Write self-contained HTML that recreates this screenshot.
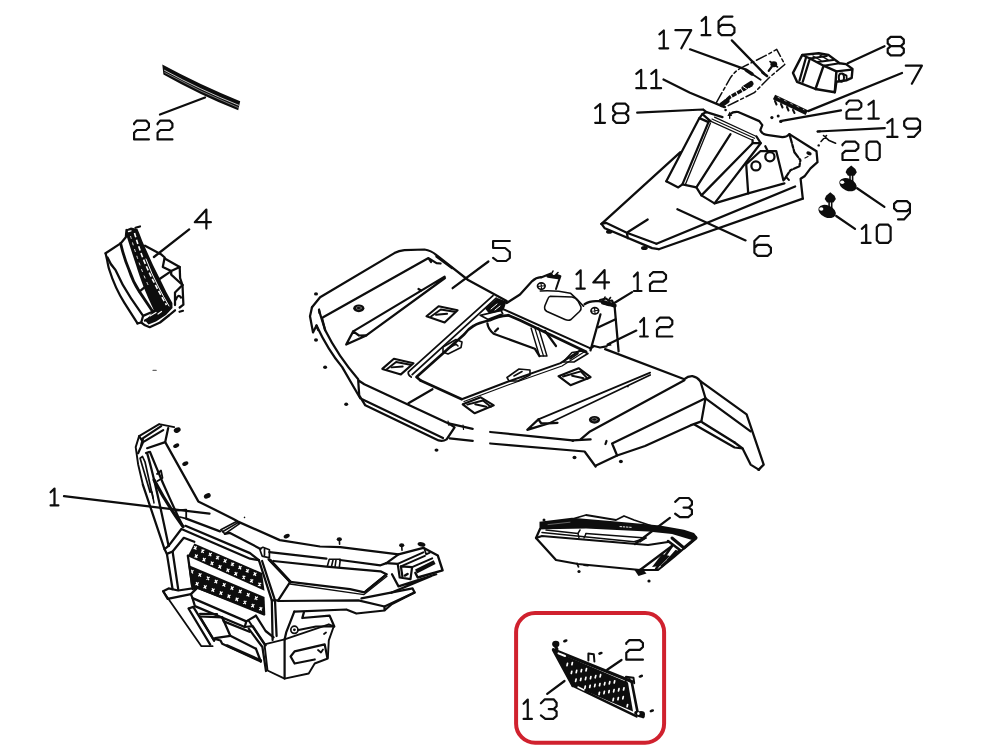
<!DOCTYPE html>
<html><head><meta charset="utf-8"><title>Parts diagram</title>
<style>
html,body{margin:0;padding:0;background:#fff;}
body{width:1000px;height:747px;overflow:hidden;font-family:"Liberation Sans",sans-serif;}
svg{display:block;filter:blur(0.45px)}
.k{fill:none;stroke:#0d0d0d;stroke-width:2.25;stroke-linecap:round;stroke-linejoin:round}
.f{fill:#0d0d0d;stroke:none}
</style></head><body>
<svg width="1000" height="747" viewBox="0 0 1000 747">
<rect width="1000" height="747" fill="#ffffff"/>
<g class="k">
<!-- p01.py -->

<g>
<!-- top-left tip -->
<path d="M159.2,424.1 L174.2,427.1 M159.2,424.1 L139.1,436.1 L135.7,447.1 L138.1,464.2 L142.9,484.8" stroke-width="1.9"/>
<path d="M161.2,426.1 L143.1,438.1 L141,446 M139.1,436.1 L143.1,442.1 L163.2,430.1 M143.1,442.1 L138.1,453.2" />
<path d="M168.2,428.1 L165.2,442.1 L198.3,501.4 L232.4,518.4 L238,521.6 L279.8,540.1 L320,546.5 L340.3,547.2 L398.5,554.3 L423.3,547.8" />
<path d="M147.1,448.2 L165.2,442.1 M146,453 L149,452"/>
<!-- left arm inner lines -->
<path d="M147.1,453.2 Q154,476 168.6,545.9"/>
<path d="M150,452 Q166,492 183,526.6"/>
<path d="M154.1,480 Q166,503 183,526.6" stroke-width="3.2"/>
<path d="M157,474 L161,470.5 L162.5,478 L157.5,481" stroke-width="1.8"/>
<path d="M140.1,458.2 L150.1,492.3 M145.1,462.2 L153.1,498.4 M140.1,458.2 L142.5,456.5 L145.1,462.2" stroke-width="1.7"/>
<path d="M152,492 L154,503" stroke-width="1.5"/>
<!-- outer left edge / pillar -->
<path d="M142.9,484.8 L164.5,549.1 L166.9,553.9 L172.6,589.2"/>
<path d="M168.6,545.9 L181.4,529 L250,558.7 L258.9,560.2"/>
<path d="M166.9,553.9 L172.6,551.5 L183.8,537.8 L194.3,541.8"/>
<path d="M172.6,551.5 L178.2,589.2"/>
<path d="M164.5,549.1 L168.6,545.9"/>
<!-- leader 1 -->
<path d="M64,496.2 L209.5,513.7"/>
<path transform="translate(50.6,488.3) scale(0.487,0.855)" d="M0,4.6 L8,0.3 L8,20 M0,20 L16,20" vector-effect="non-scaling-stroke" stroke-width="2.2"/>
<!-- clips on top band -->
<path d="M176.6,510.5 L186.2,509.7 L186.2,518.6 L180,517" stroke-width="1.8"/>
<path d="M220.8,529.8 L236,521.8 L240,523.4 L224.8,533.8 Z M222.5,531.8 L238,522.6" stroke-width="1.6"/>
<path d="M259.7,548.9 L262.9,547.3 L269.4,549.7 L269.4,557.8 L262.1,556.1 Z M264.5,549 L264.5,555" stroke-width="1.7"/>
<path d="M327.3,566.3 L329.3,559.3 L340.3,559.3 L339.3,567.3 M333,560 L331.5,566.5 M336,560 L335,567" stroke-width="1.6"/>
<!-- band lines -->
<path d="M186.2,518.6 L220,531.4 M224.8,533.8 L230,532.9 L260.5,548.9 M269.4,552.1 L326.4,558.6 M340,560 L380.5,565.3 L386.4,563.1"/>
<path d="M185.4,525.8 L250,553.1 L258.9,560.2"/>
<!-- right tip box -->
<path d="M423.3,547.8 L437.8,555.5 L442.6,570.3 L417.7,577.5 L415.3,572.7" stroke-width="2.4"/>
<path d="M386.4,563.1 L397.7,563.9 L399.7,577.5 L410.5,579.1 L412.1,567.1 L400.9,566.3 L402.5,577" stroke-width="2.2"/>
<path d="M386.4,563.1 L398.5,554.3"/>
<path d="M397.7,563.9 L423.3,552.3 M400.9,566.3 L424.9,555.9 M412.1,567.1 L432.2,558.3" stroke-width="2"/>
<path d="M416,571.5 L434.6,562.2" stroke-width="4.2" stroke-linecap="butt"/>
<path d="M424.3,548.5 L426.1,554.3 L429.8,552.7" stroke-width="1.8"/>
<path d="M405,575.5 L407.5,574" stroke-width="2.6"/>
<path d="M392,574.3 L398.5,586.4 L436.2,574.3 M391.2,592.8 L431.4,575.9" />
<!-- recess panel -->
<path d="M290.2,581.8 L350,589.1 L364.4,592.4 L386.5,574.3" stroke-width="2.2"/>
<path d="M290,584 L364,594.6 L387,576.3" stroke-width="1.3"/>
<path d="M273.4,561 L326.4,566.6 L380.5,571.3 L386.5,574.3"/>
<path d="M270,560 L290.2,581.8" stroke-width="3"/>
<path d="M366,591 L385,575.5" stroke-width="2.2"/>
<!-- pentagon + post -->
<path d="M258.9,560.2 L271.8,600.3 L272.6,640"/>
<path d="M262.1,561 L275,600.3 L276.6,636"/>
<path d="M268.6,559.4 L290.2,581.8 L278.2,600.3 L271.8,600.3"/>
<!-- lower band to right -->
<path d="M278.2,601 L358.4,600.4 L384.5,606.5 L414.6,592.4 L412.6,588.4 L361.4,598.4"/>
<path d="M294.3,611.6 L346.3,609.5 L356.4,613.5 L384.5,610.5 L384.5,606.5"/>
<path d="M385,610 L392,604 L414.6,592.4"/>
<path d="M294.3,611.6 L286.2,632.4 L284.6,639.4"/>
<path d="M303.9,612.4 L302.3,618 L329.6,615.6 L334.3,626.5"/>
<circle cx="294.4" cy="629.8" r="3.6" stroke-width="1.7"/>
<circle cx="294.4" cy="629.8" r="1.4" class="f"/>
<path d="M298.5,630 L316,626.5 L333.8,626.3"/>
<!-- lower bumper right corner -->
<path d="M248.4,620.3 L264.5,644.4 L267.5,670.5 L284.6,678.6 L308.7,673.5 L314.7,663.5 L327.8,658.5 L328.8,640.4 L333.8,626.3 L328.8,624.3 L284.6,639.4 L264.5,644.4" stroke-width="1.9"/>
<path d="M284.6,639.4 L284.6,678.6"/>
<path d="M290.6,656.5 L294.6,651.4 L324.7,644.4 L327.3,657.5 M290.6,656.5 L294.6,663.5 L314.7,659.5"/>
<path d="M318,650 L321,652.5 L323,649.5" stroke-width="1.8"/>
<path d="M324,634 L326,632.5" stroke-width="1.8"/>
<!-- grille -->
<path class="f" d="M194.3,543.5 L262.1,573 L264.5,590.7 L187.8,556.3 Z"/>
<path class="f" d="M188.4,565.1 L264.5,597.1 L265.3,614.8 L191,586.5 Z"/>
<path d="M193.7,549.1 L196.9,546.5 M194.4,546.1 L196.2,549.7 M194.6,557.4 L197.8,554.8 M195.3,554.4 L197.1,558.0 M201.1,552.4 L204.3,549.8 M201.8,549.4 L203.6,553.0 M202.5,560.9 L205.7,558.3 M203.2,557.9 L205.0,561.5 M208.6,555.7 L211.8,553.1 M209.3,552.7 L211.1,556.3 M210.4,564.5 L213.6,561.9 M211.1,561.5 L212.9,565.1 M216.0,558.9 L219.2,556.3 M216.7,555.9 L218.5,559.5 M218.3,568.0 L221.5,565.4 M219.0,565.0 L220.8,568.6 M223.5,562.2 L226.7,559.6 M224.2,559.2 L226.0,562.8 M226.3,571.5 L229.5,568.9 M227.0,568.5 L228.8,572.1 M230.9,565.5 L234.1,562.9 M231.6,562.5 L233.4,566.1 M234.2,575.0 L237.4,572.4 M234.9,572.0 L236.7,575.6 M238.4,568.8 L241.6,566.2 M239.1,565.8 L240.9,569.4 M242.1,578.6 L245.3,576.0 M242.8,575.6 L244.6,579.2 M245.8,572.0 L249.0,569.4 M246.5,569.0 L248.3,572.6 M250.0,582.1 L253.2,579.5 M250.7,579.1 L252.5,582.7 M253.3,575.3 L256.5,572.7 M254.0,572.3 L255.8,575.9 M257.9,585.6 L261.1,583.0 M258.6,582.6 L260.4,586.2" stroke="#fff" stroke-width="1.25" stroke-linecap="butt"/><path d="M190.3,572.9 L193.5,570.3 M191.0,569.9 L192.8,573.5 M195.5,585.1 L198.7,582.5 M196.2,582.1 L198.0,585.7 M198.3,576.2 L201.5,573.6 M199.0,573.2 L200.8,576.8 M203.5,588.2 L206.7,585.6 M204.2,585.2 L206.0,588.8 M206.4,579.5 L209.6,576.9 M207.1,576.5 L208.9,580.1 M211.4,591.3 L214.6,588.7 M212.1,588.3 L213.9,591.9 M214.4,582.8 L217.6,580.2 M215.1,579.8 L216.9,583.4 M219.4,594.4 L222.6,591.8 M220.1,591.4 L221.9,595.0 M222.5,586.1 L225.7,583.5 M223.2,583.1 L225.0,586.7 M227.3,597.5 L230.5,594.9 M228.0,594.5 L229.8,598.1 M230.5,589.4 L233.7,586.8 M231.2,586.4 L233.0,590.0 M235.3,600.6 L238.5,598.0 M236.0,597.6 L237.8,601.2 M238.6,592.7 L241.8,590.1 M239.3,589.7 L241.1,593.3 M243.2,603.7 L246.4,601.1 M243.9,600.7 L245.7,604.3 M246.6,596.0 L249.8,593.4 M247.3,593.0 L249.1,596.6 M251.2,606.9 L254.4,604.3 M251.9,603.9 L253.7,607.5 M254.6,599.4 L257.8,596.8 M255.3,596.4 L257.1,600.0 M259.1,610.0 L262.3,607.4 M259.8,607.0 L261.6,610.6" stroke="#fff" stroke-width="1.25" stroke-linecap="butt"/>
<path d="M187.8,555.5 L192.7,589.2"/>
<!-- wing -->
<path d="M163.1,591.2 L168.6,588.4 L178.2,590.5 L197.5,587.6 L190.9,594.1 L167.7,598.9 Z"/>
<path d="M163.1,591.2 L201.4,646.2 L212.6,646.2" stroke-width="1.8"/>
<path d="M188.5,608.5 L210.2,644.6 M193.3,606.9 L214.2,640.6 M188.5,608.5 L193.3,606.9"/>
<!-- crossbar -->
<path d="M190.9,594.1 L192.5,598.1 L246.3,621.4 L255.9,615.7"/>
<path d="M192.5,598.1 L194.9,606.1 L244.7,627 L246.3,621.4"/>
<path d="M197.5,587.6 L264,614.5"/>
<path d="M244.7,627 L252.7,626.2 L265.6,645.4"/>
<path d="M255.9,615.7 L265.6,631 L273.6,637.4"/>
<path d="M248.7,628.6 L262.4,647 L266,671"/>
<!-- recess under crossbar -->
<path d="M199.8,616.5 L222.2,617.3 L230.3,635.8 L215,638.2"/>
<path d="M199.8,616.5 L214.2,640.6"/>
<path d="M200,613.8 L217,614.2" stroke-width="2.2"/>
<path d="M222.2,617.3 L223.8,621.4 L249.5,631.8"/>
<path d="M230.3,635.8 L255.9,648.7"/>
<path d="M215,639 L220.5,640.5 L222.2,643.8 L260.8,661.5"/>
<path d="M227,645.5 L260.8,660.5" stroke-width="2.6"/>
<path d="M255.9,648.7 L260.8,661.5"/>
<!-- bolts -->
<ellipse class="f" cx="177.2" cy="430.1" rx="3.6" ry="2.6" transform="rotate(-25 177.2 430.1)"/><ellipse class="f" cx="176.2" cy="445.7" rx="3.2" ry="2.0" transform="rotate(-25 176.2 445.7)"/><ellipse class="f" cx="185.3" cy="463.6" rx="3.2" ry="2.0" transform="rotate(-25 185.3 463.6)"/><ellipse class="f" cx="207.3" cy="495.9" rx="3.6" ry="2.4" transform="rotate(-25 207.3 495.9)"/><ellipse class="f" cx="286.7" cy="536.1" rx="3.2" ry="2.0" transform="rotate(-25 286.7 536.1)"/><ellipse class="f" cx="339.3" cy="539.2" rx="2.6" ry="2"/><path d="M339.3,539.2 L339.6,544.2" stroke-width="1.6"/><ellipse class="f" cx="401.7" cy="545.2" rx="2.6" ry="2"/><path d="M401.7,545.2 L402.0,550.2" stroke-width="1.6"/><ellipse class="f" cx="421.5" cy="544.4" rx="4" ry="2.2" transform="rotate(12 421.5 544.4)"/><ellipse class="f" cx="244.5" cy="517.4" rx="0.8" ry="0.8" transform="rotate(-25 244.5 517.4)"/>
</g>

<!-- p02.py -->

</g>
<rect x="516.1" y="613.1" width="148" height="129.6" rx="19" ry="19" fill="none" stroke="#d0212e" stroke-width="4"/>
<g class="k">
<g>
<path class="f" d="M553.4,650.7 L628,682.5 L633,711.5 L572.7,685.6 Z"/>
<path d="M567.5,663.4 L567.0,665.6 M571.8,671.3 L571.3,673.5 M576.1,679.2 L575.6,681.4 M572.4,662.5 L571.9,664.7 M576.7,670.4 L576.2,672.6 M581.0,678.3 L580.5,680.5 M585.3,686.2 L584.8,688.4 M581.6,669.5 L581.1,671.7 M585.9,677.4 L585.4,679.6 M590.2,685.3 L589.7,687.5 M586.5,668.6 L586.0,670.8 M590.9,676.5 L590.4,678.7 M595.1,684.4 L594.6,686.6 M599.5,692.3 L599.0,694.5 M595.8,675.6 L595.2,677.8 M600.0,683.5 L599.5,685.7 M604.4,691.4 L603.9,693.6 M600.6,674.7 L600.1,676.9 M604.9,682.6 L604.4,684.8 M609.2,690.5 L608.8,692.7 M613.5,698.4 L613.0,700.6 M609.8,681.7 L609.3,683.9 M614.1,689.6 L613.6,691.8 M618.4,697.5 L617.9,699.7 M614.7,680.8 L614.2,683.0 M619.0,688.7 L618.5,690.9 M623.3,696.6 L622.8,698.8 M627.6,704.5 L627.1,706.7 M624.0,687.8 L623.5,690.0" stroke="#fff" stroke-width="1.7" stroke-linecap="round"/>
<path d="M553.4,649.7 L631.7,681.5" stroke-width="3.2"/>
<path d="M631.7,682 L637.8,713.3" stroke-width="2.6"/>
<path d="M553.8,650.7 L572.7,685.6" stroke-width="3"/>
<path d="M572.7,685.6 L636.6,716.4" stroke-width="2.4"/>
<path d="M558.5,653.3 L565,656" stroke="#fff" stroke-width="2"/>
<path d="M578,687 L584,690" stroke="#fff" stroke-width="1.5"/>
<path d="M630,688 L634.5,710.5" stroke="#fff" stroke-width="1.1"/>
<ellipse class="f" cx="555.8" cy="644" rx="3.6" ry="3.3"/>
<path d="M554,644 L557,649" stroke-width="3"/>
<path d="M588.4,660.5 L588.4,653.6 L593.8,654.3 L594.4,661.5" stroke-width="2"/>
<path d="M625.7,682 L626,676.8 L633.5,677.8 L634.2,683.2" stroke-width="2"/>
<ellipse cx="629.3" cy="679" rx="1.4" ry="1.1" class="f"/>
<ellipse class="f" cx="641" cy="714.2" rx="4" ry="3.3"/>
<path d="M636,712.8 L643,716.5" stroke-width="3.6"/>
<ellipse cx="638.4" cy="713.4" rx="1.2" ry="1.5" fill="#fff" stroke="none"/>
<ellipse class="f" cx="565.3" cy="640.9" rx="2.38" ry="1.36" transform="rotate(-20 565.3 640.9)"/><ellipse class="f" cx="600.4" cy="653.3" rx="2.38" ry="1.36" transform="rotate(-20 600.4 653.3)"/><ellipse class="f" cx="640.8" cy="676.2" rx="2.38" ry="1.36" transform="rotate(-20 640.8 676.2)"/><ellipse class="f" cx="651.8" cy="710.8" rx="2.38" ry="1.36" transform="rotate(-20 651.8 710.8)"/>
<path d="M607.2,669.8 L621.5,660"/>
<path d="M547.2,693.8 L564.5,681"/>
<path transform="translate(626.3,640.1) scale(1.038,0.980)" d="M0,4 L0,3 L3,0 L13,0 L16,3 L16,7 L13,10 L3,10 L0,13 L0,20 L16,20" vector-effect="non-scaling-stroke" stroke-width="2.2"/><path transform="translate(523.6,699.3) scale(0.519,0.980)" d="M0,4.6 L8,0.3 L8,20 M0,20 L16,20" vector-effect="non-scaling-stroke" stroke-width="2.2"/>
<path transform="translate(540.9,699.3) scale(0.981,0.980)" d="M0,4 L4,0 L13,0 L16,3.5 L16,7 L13,10 L8,10 M13,10 L16,12.5 L16,17 L12.5,20 L4.5,20 L0,16.5" vector-effect="non-scaling-stroke" stroke-width="2.2"/>
</g>

<!-- p03.py -->

<g>
<!-- PART 3 headlight -->
<path d="M574,518.5 L586,515 L616,520 L624,516 L634,520 L652,526" stroke-width="1.8"/>
<path class="f" d="M539.5,521.8 L572,517.8 L616,521.6 L660,525.6 L684,529.8 L694,533 L697.5,537.2 L692,540 L672,534 L648,531.6 L586,528.4 L546,529.2 L539.5,529.6 Z"/>
<path d="M620,526.6 L632,527.4" stroke="#fff" stroke-width="0.9" stroke-dasharray="1.6 1.6"/>
<path d="M548,524.6 L570,522.2" stroke="#8a8a8a" stroke-width="0.7"/>
<path d="M540,529 L536,538 L556,560 L578,564 L640,570 L672,546"/>
<path d="M536,538 L542,536 L648,545 L668,542"/>
<path d="M542,532.6 L634,541.8 L646,538" stroke-width="1.5"/>
<path d="M546,530 L578,533.4 L580,530 M586,533.6 L646,538 L640,542" stroke-width="1.5"/>
<path d="M578,533.4 L579,538 M586,533.6 L584,538" stroke-width="1.4"/>
<path d="M640,570 L658,570 L674,557 L696,538" stroke-width="2.2"/>
<!-- right wrap -->
<path d="M672,538 L684,548 L696,538" stroke-width="3"/>
<path d="M668,541 L680,550 L662,566" stroke-width="2.6"/>
<path d="M672,546 L656,569" stroke-width="2.4"/>
<path d="M662,554 L652,567 L660,566 L670,556 Z" class="f"/>
<path d="M676,551 L668,560" stroke-width="2.2"/>
<path class="f" d="M634.5,570 L642,568.2 L646.5,573.4 L638.5,576 Z"/>
<path d="M577,563.5 L578.5,566.8 M584,565 L588,565.6" stroke-width="1.8"/>
<circle class="f" cx="544" cy="520" r="1.5"/><circle class="f" cx="579" cy="571.5" r="1.6"/><circle class="f" cx="649" cy="581" r="1.6"/>
<path d="M635,544 L669.9,517.9"/>
<path transform="translate(675.2,498.0) scale(1.044,0.955)" d="M0,4 L4,0 L13,0 L16,3.5 L16,7 L13,10 L8,10 M13,10 L16,12.5 L16,17 L12.5,20 L4.5,20 L0,16.5" vector-effect="non-scaling-stroke" stroke-width="2.2"/>
</g>

<!-- p04.py -->

<g>
<!-- front lens face -->
<path d="M105.6,253.3 L120.6,243.4 L125.8,237.3 L126.5,230"/>
<path d="M105.6,253.3 L107,259.4 Q108.5,268 109.4,270 Q115,288 124.4,302.8 L137.5,323.4"/>
<path d="M107.5,257.5 Q110,264 115.5,270 Q122,285 130.9,298.1 L143.1,315.9 L141.2,322.5"/>
<path d="M137.5,323.4 L141.2,322.5 L145,325.3 L149.7,327.2 L160,322.5 L169.4,315 L175,310.3"/>
<path d="M143.1,315.9 L152.5,311.8 M145,320.6 L154.4,315.5"/>
<!-- bezel outer-left thick line -->
<path d="M120.6,243.4 Q124,258 129.1,270 Q133,282 139.4,291.6 L152.5,311.2" stroke-width="2.8"/>
<path d="M139.4,291.6 L145,286.9" />
<!-- dark bezel band -->
<path class="f" d="M126.2,229.4 L131,227.6 L137.5,229 L139.6,234.1 Q142,241 145,247.2 L153,265 L160.5,280 Q166,292 172.4,303 L172.5,308 L166,315 L156,321.5 L148.5,324.5 L145.5,321 L151,314 L153.5,309.5 Q148,298 144,288 Q139,275 136,265 Q131,250 126.6,236 Z"/>
<path d="M134.5,233 Q138,245 142.5,257 Q148,271 154.5,283 Q160,294 166.5,305" stroke="#fff" stroke-width="1.6" stroke-dasharray="4.5 2.5" stroke-linecap="butt"/>
<path d="M130.5,236 Q134,248 138.5,261 Q143,274 149,287" stroke="#fff" stroke-width="0.9" stroke-dasharray="3 4" stroke-linecap="butt"/>
<path d="M146,259 Q152,275 158.5,287 Q163,296 169,306" stroke="#fff" stroke-width="1" />
<path d="M150,316 L156,312.5 M158,314 L161.5,311.5" stroke="#fff" stroke-width="1.2"/>
<path d="M128.5,231.5 L131,230.8" stroke="#fff" stroke-width="1.3"/>
<path d="M135.5,227.8 L140,226.5" stroke-width="2.2"/>
<!-- rear housing -->
<path d="M145,245.8 L160.9,254.2 L164.7,257.5 L162.8,266.9 L171.2,271.1 L179.7,266.9 L180.1,278.1 L182.5,285 L183.4,304.7 L179.7,307.5"/>
<path d="M164.7,258.5 L179.7,266.9"/>
<path d="M171.2,271.1 L158.1,280 M171.2,274.7 L182.5,285 M171.2,271.1 L171.2,274.7"/>
<path d="M182.5,285 L175,292.5 L175,305"/>
<path d="M176,299.5 Q178,293.5 181,297.5"/>
<path d="M179.5,311.8 L183,310.8" stroke-width="2.2"/>
<!-- leader -->
<path d="M153.9,257 L189.2,229.4"/>
<path transform="translate(194.8,209.5) scale(1.006,0.955)" d="M11.5,20 L11.5,0 L0,13.3 L16,13.3" vector-effect="non-scaling-stroke" stroke-width="2.2"/>
</g>

<!-- p05.py -->

<g>
<!-- LEFT FENDER outer -->
<path d="M312,307.3 L320.1,297.3 L394.4,253.1 Q399,250.6 404.4,250.1 L424.5,249.5 Q431,250.5 436.5,255.1 L468.1,280 L506.7,300.9"/>
<path d="M436.5,256.5 L452,268" stroke-width="2.4"/>
<path d="M323.1,317.3 L428.5,258.1 L431,262 M428.5,258.1 L436.5,263.1 L440.6,263.5"/>
<path d="M312,307.3 L310,316.3 L313,332.4 L316.5,325.4 L318.1,330"/>
<path d="M319,309.5 L319.6,313 M322,318 L325.1,330"/>
<path d="M316.5,325.4 Q328,350 342.2,367.1 L360.2,398.3"/>
<path d="M319,310.3 L325.1,330 Q338,356 358.2,379.2"/>
<!-- bolt on left fender -->
<ellipse class="f" cx="358.8" cy="308.3" rx="5.6" ry="3.9"/><ellipse cx="358.8" cy="308" rx="2.6" ry="1.5" stroke="#777" stroke-width="0.8"/>
<!-- arrow groove left -->
<path d="M353.2,331.4 L444.6,276.6 M366.3,335.4 L445,278"/>
<path d="M353.2,331.4 L346.2,344.5 L366.3,335.4 M353.2,331.4 L359,335.5 L366.3,335.4" />
<path d="M418.5,289 L421,290.5" />
<path d="M426.5,316.3 L438.6,306.3 L457.6,310.3 L444.6,322.4 Z" stroke-width="2.1"/><path d="M431.0,316.6 L440.8,309.5 L454.6,311.8" stroke-width="1.9"/><path d="M436.05,314.8 L447.1,313.8" stroke-width="1.9"/><path d="M382.3,368.9 L393.9,358.8 L413.5,363.3 L400.9,374.4 Z" stroke-width="2.1"/><path d="M386.8,369.2 L396.09999999999997,362.0 L410.5,364.8" stroke-width="1.9"/><path d="M391.6,367.35 L402.7,366.55" stroke-width="1.9"/><path d="M462.7,404.3 L480.7,397.3 L493.8,405.3 L474.7,413.3 Z" stroke-width="2.1"/><path d="M467.2,404.6 L482.9,400.5 L490.8,406.8" stroke-width="1.9"/><path d="M475.2,404.3 L486.25,406.8" stroke-width="1.9"/><path d="M558.5,376.2 L578.6,368.2 L590.6,377.2 L570.5,385.2 Z" stroke-width="2.1"/><path d="M563.0,376.5 L580.8000000000001,371.4 L587.6,378.7" stroke-width="1.9"/><path d="M572.05,375.7 L583.6,378.2" stroke-width="1.9"/>
<!-- leader 5 -->
<path d="M452.6,288.2 L488.4,261.5"/>
<path transform="translate(493.1,241.0) scale(1.044,1.000)" d="M16,0 L0,0 L0,7 L11.5,7 L16,11 L16,17 L12.5,20 L4,20 L0,16.8" vector-effect="non-scaling-stroke" stroke-width="2.2"/>
<!-- center rail left -->
<path d="M493,295.7 L408.4,371.8 Q407.6,375 411.2,377" stroke-width="1.8"/>
<path d="M496.2,298.1 L412.2,374.6" stroke-width="1.8"/>

<path d="M508.3,315.3 Q498,316 489.8,320.2 Q478,323 473.7,325.8 Q468,329 464.1,334.6 L416.5,377 L420.6,380.5" stroke-width="2.7"/>
<path d="M420.6,380.5 L461.8,399.2" stroke-width="2.6"/>
<path d="M461.8,399.2 L506.3,382.2 L560.5,363.1 L580.6,350.1" stroke-width="2"/>
<path d="M464,401.5 L508,385 L562,366 L584,352" stroke-width="1.2"/>
<!-- latches on rails -->
<path d="M443,347 L456,339.5 L462,342 L461,347.5 L448,354 L443,352 Z M448,348.5 L456,344 L458,346" stroke-width="1.6"/>
<path d="M480.2,315.3 L501,310.5 L502.7,313.7 L488.2,319.4 Z" stroke-width="1.7"/>
<path class="f" d="M485,308.5 L497.5,298 L506.5,301.5 L503.5,310.5 L489,313.5 Z"/><path d="M491,309 L497,304 M495,310 L500,306" stroke="#fff" stroke-width="1"/>

<path d="M507,377.5 L519,369 L530,370 L530,375 L518,381 L509,381 Z M514,376 L522,371.5" stroke-width="1.6"/>
<path d="M563,362 L572,352.5 L582,351 L588,353.5 L574,362 Z M570,359 L578,353.5" stroke-width="1.6"/>
<!-- cross piece / lower edge of raised panel -->
<path d="M504.3,309.7 L590.5,348.4" stroke-width="2"/>
<path d="M508.3,315.3 L520,320.2 L586,351.8" stroke-width="2.8"/>
<!-- triangle panel inside opening -->
<path d="M487.4,323.4 Q488,329 493.6,333.7 L534.8,348.7 L539.5,356.1"/>
<path d="M495,331.5 L498,328.5"/>
<path d="M531.1,328.1 L539.5,356.1 L547,356.1 L538.6,328.1" stroke-width="1.5"/>
<path d="M535,328.5 L543.5,356" stroke-width="1.2"/>
<path d="M545,331 L556,346"/>
<!-- raised panel -->
<path d="M506.7,303 L520,294.5 L532.2,281.1 Q536,277.5 541,277.1"/>
<path d="M541,277.5 L551,273.5 L553,276.5 L557,275 L560.4,276.1 L558,283 L556,289" stroke-width="2"/><path d="M548,276 L558,277.5" stroke-width="3.4"/>
<path d="M552,273 L553,271 M556,274.5 L558,272.5" stroke-width="1.6"/>
<ellipse cx="541.3" cy="286.1" rx="3.8" ry="3.2" stroke-width="1.7"/>
<path d="M537.5,286.5 L545,285.7 M541,283 L541.6,289.3" stroke-width="1.1"/>
<path d="M540.3,291 Q555,290 570.4,293.2 Q577,299 583.5,306.2" stroke-width="1.6"/>
<path d="M550.3,296.2 L572,297 Q576,297.5 578,301 L581,307 Q581.5,309.5 579.5,311.5 L571,319.5 Q568.4,321 565,319.5 L547,311.5 Q543.5,309.5 545,305.5 L548,298.5 Q548.8,296.5 550.3,296.2 Z" stroke-width="1.6"/>
<path d="M584.5,304.2 Q590,300.5 598.5,301.2 L603,302" />
<path d="M600,300 L606,298.5 L609,301 L612,300.5 L614.6,306.2" stroke-width="2.2"/><path d="M603,302 L614.5,305.5" stroke-width="4.4"/>
<path d="M602,303.5 L609,305.5 M604,299 L605,297 M609,299.5 L610.5,297.5" stroke-width="1.6"/>
<ellipse cx="594.8" cy="310.8" rx="3.8" ry="3.2" stroke-width="1.7"/>
<path d="M591,311.2 L598.6,310.3 M594.5,307.6 L595.1,314" stroke-width="1.1"/>
<path d="M614.6,306.2 L618.6,351.4"/>
<path d="M600.5,314.3 L590.5,350.4"/>
<path d="M598.5,327.3 L615.6,319.3"/>
<path d="M590.5,348.4 L594,346 L600,347.5 L606.5,346.4"/>
<!-- leaders 14 / 12 / 12 -->
<path d="M613.9,303.3 L632.1,292.1"/>
<path d="M607.6,344.6 L636.3,330.6"/>
<path class="f" d="M605.5,346.5 L610.5,342 L611.5,345.5 Z"/>
<path transform="translate(576.5,270.1) scale(0.519,0.925)" d="M0,4.6 L8,0.3 L8,20 M0,20 L16,20" vector-effect="non-scaling-stroke" stroke-width="2.2"/>
<path transform="translate(593.3,270.1) scale(0.981,0.925)" d="M11.5,20 L11.5,0 L0,13.3 L16,13.3" vector-effect="non-scaling-stroke" stroke-width="2.2"/><path transform="translate(633.9,272.2) scale(0.475,0.940)" d="M0,4.6 L8,0.3 L8,20 M0,20 L16,20" vector-effect="non-scaling-stroke" stroke-width="2.2"/>
<path transform="translate(650.0,272.2) scale(1.000,0.940)" d="M0,4 L0,3 L3,0 L13,0 L16,3 L16,7 L13,10 L3,10 L0,13 L0,20 L16,20" vector-effect="non-scaling-stroke" stroke-width="2.2"/><path transform="translate(640.2,317.7) scale(0.475,0.940)" d="M0,4.6 L8,0.3 L8,20 M0,20 L16,20" vector-effect="non-scaling-stroke" stroke-width="2.2"/>
<path transform="translate(657.0,317.7) scale(0.956,0.940)" d="M0,4 L0,3 L3,0 L13,0 L16,3 L16,7 L13,10 L3,10 L0,13 L0,20 L16,20" vector-effect="non-scaling-stroke" stroke-width="2.2"/>
<!-- RIGHT FENDER -->
<path d="M605.1,349.1 L684.4,379.2 Q688,376 692.4,376.2 Q697,377 700.4,381.2 L746.6,414.4 L763.7,464.6 L758.7,469.6"/>
<path d="M700.4,381.2 L705.5,398.3 L701.4,421.4"/>
<path d="M705.5,398.3 L750.6,431.4"/>
<path d="M580.6,439.4 L590,431.4 L684.4,380.2"/>
<path d="M612.1,443.5 L705.5,398.3 M612.1,443.5 L617.1,455.5"/>
<path d="M596,465.6 L617.1,455.5 L645,446 L690.4,425.4 L701.4,421.4"/>
<path d="M694.4,424.4 L734.6,447.5 L742.6,448.5 L750.6,464.6 L758.7,469.6"/>
<path d="M702.4,422.4 L734.6,442.5" stroke-width="2.4"/>
<path d="M734.6,442.5 L742.6,448.5"/>
<path d="M548.4,423.4 L650.2,375 M538.4,419.4 L650.2,372.6" stroke-width="1.7"/>
<path d="M538.4,419.4 L527.3,429.8 L548.4,423.4 L557.5,422.8 M538.4,419.4 L541,423 L548.4,423.4"/>
<ellipse class="f" cx="594.5" cy="419.8" rx="5.6" ry="3.9"/><ellipse cx="594.5" cy="419.5" rx="2.6" ry="1.5" stroke="#777" stroke-width="0.8"/>
<!-- front edge -->
<path d="M358.2,380.2 L364.3,384.2 L448.6,423.4 L454.6,427.4 L446.6,439.4 Q443,441.5 438.6,440.4 L365.3,405.3 L359.2,395.3 Z"/>
<path d="M362.2,399.3 L443,438"/>
<path d="M408.4,403.3 L432.5,389.2"/>
<path d="M448.6,423.4 L472.7,428.8 M449.6,438.4 L472.7,440.8"/>
<path d="M448,421 L449,425.5 M463,425 L463.5,429.5" stroke-width="1.2"/>
<path d="M490.2,432 L572.5,440.4 L590.6,439.4"/>
<path d="M490.2,443.5 L584.6,451.5 L595.6,466.5"/>
<ellipse class="f" cx="316" cy="293.9" rx="2.0" ry="1.70"/><ellipse class="f" cx="316" cy="340" rx="2.0" ry="1.70"/><ellipse class="f" cx="325.1" cy="367.3" rx="2.0" ry="1.70"/><ellipse class="f" cx="346.2" cy="404.3" rx="2.0" ry="1.70"/><ellipse class="f" cx="436.5" cy="450.1" rx="2.0" ry="1.70"/><ellipse class="f" cx="574.5" cy="457.5" rx="2.0" ry="1.70"/><ellipse class="f" cx="620.9" cy="461.5" rx="2.0" ry="1.70"/><ellipse class="f" cx="572.8" cy="440.8" rx="1.4" ry="1.19"/><ellipse class="f" cx="627.8" cy="386.5" rx="1.0" ry="0.85"/><ellipse class="f" cx="758.7" cy="469.6" rx="1.6" ry="1.36"/>
<path d="M605.5,444 L606.5,441"/>
</g>

<!-- p06.py -->

<g>
<!-- PART 6 -->
<path d="M601.5,223.9 L680.4,152.2 M666.3,181.3 L699.4,118.1 L702.4,114.1 L706.5,112.1 L722.5,117.1"/>
<path d="M702.4,114.1 L710.5,121.1 M699.4,118.1 L708.5,122.1"/>
<path d="M666.3,181.3 L678.3,187.4 L682.4,184.4 L708.5,122.1"/>
<path d="M685.4,184.6 L710.5,123.1" stroke-width="1.3"/>
<path d="M682.4,184.4 L696.4,187.4 L730.5,134.2"/>
<path d="M696.4,187.4 L701.4,195.4 L752.6,143.2"/>
<path d="M701.4,195.4 L714.5,203.4 L760.7,143.2"/>
<path d="M714.5,203.4 L748.2,193.4 L784.4,183.3"/>
<path d="M710.5,121.1 L752.6,140.2 M714.5,117.1 L756.5,136.5 M712,119 L754.5,138.3" stroke-width="1.2"/>
<path d="M752.6,140.2 L752.6,143.2 L760.7,143.2 L756.5,136.5"/>
<!-- bracket -->
<path d="M748.2,193.4 L746.2,164.3 L760.3,151.2 L776.3,151.2 L783.4,180.3"/>
<circle cx="755.9" cy="165.9" r="4.5"/>
<circle cx="769.9" cy="156.8" r="4.6"/>
<path d="M765.3,146.2 L767.3,150.2"/>
<!-- back / right outline -->
<path d="M730.2,114.1 Q733,111.5 738.2,112 L759.3,121.1 L762.3,125.1 L760.3,130.1 Q762,134.5 768.3,135.1 L782.4,137.1 Q787,137 789.4,134.1 L808.5,146.2 L816.5,151.2 L817.5,162.2 L810.5,168.3 L804.5,176.3 L800.6,178.8 L802.8,198.6"/>
<path d="M789.4,134.1 L794.4,152.2 L800.4,160.2 L799.4,166.3 L790.4,170.3 L784.4,179.3" stroke-dasharray="9 2 3 2"/>
<path d="M786,177 L789,180" stroke-width="1.8"/>
<ellipse class="f" cx="809" cy="153.4" rx="2.8" ry="1.9" transform="rotate(25 809 153.4)"/>
<path d="M805,158 L808,156.5" stroke-width="1.2"/>
<path class="f" d="M729.6,111.5 L732.2,116 L727.4,116 Z"/><path d="M729.7,116 L729.7,118.3" stroke-width="1.4"/>
<!-- flange lines -->
<path d="M795.1,186.5 L656.5,243.7"/>
<path d="M802.8,198.6 L658.7,249.2"/>
<!-- front -->
<path d="M601.5,223.9 L604.8,228.3 L652.1,248.1 L658.7,249.2"/>
<path d="M601.5,223.9 L605.9,222.8 L626.8,232.7 L656.5,243.7 M626.8,232.7 L647.7,219.5 M626.8,232.7 L627.9,238.2"/>

<ellipse class="f" cx="609.2" cy="231.8" rx="3.2" ry="2"/>
<ellipse class="f" cx="644.4" cy="248" rx="3.4" ry="2"/>
<!-- leader 6 -->
<path d="M677.4,209.2 L745.6,240.4"/>
<path transform="translate(754.4,236.0) scale(1.031,0.990)" d="M14,0 L5,0 L0,5 L0,17 L3,20 L13,20 L16,17 L16,12 L13,9 L3,9 L0,12" vector-effect="non-scaling-stroke" stroke-width="2.2"/>
<!-- leader 18 -->
<path d="M637.2,112.7 L703,109.5 L706.5,112.1"/>
<path transform="translate(595.2,103.7) scale(0.613,0.955)" d="M0,4.6 L8,0.3 L8,20 M0,20 L16,20" vector-effect="non-scaling-stroke" stroke-width="2.2"/>
<path transform="translate(613.2,103.7) scale(0.938,0.955)" d="M3,0 L13,0 L16,3 L16,7 L13,10 L3,10 L0,7 L0,3 Z M3,10 L0,13 L0,17 L3,20 L13,20 L16,17 L16,13 L13,10" vector-effect="non-scaling-stroke" stroke-width="2.2"/>
</g>

<!-- p07.py -->

<g>
<!-- phantom outline -->
<path d="M716.5,102.3 L730.2,78.2 Q735,70.5 743,66.9 L765.5,55.7 L776.7,49.3 L784.8,64.5 L770.3,76.6 L754.3,92.7 L725.3,107.1" stroke-dasharray="11 3 3 3" stroke-width="1.5"/>
<!-- part 11 strap -->
<path d="M722.5,104 L730,97 L748,87 L752,84.5" stroke-width="3.4" stroke-dasharray="5 1.2" stroke-linecap="butt"/>
<path d="M722,104.5 L727,101" stroke-width="5"/>
<path d="M744,88 L751,83.5" stroke-width="5"/>
<path d="M743,86.5 L747.5,89.5" stroke="#fff" stroke-width="1"/>
<!-- 17 spring -->
<path d="M746.2,70.2 L752,74" stroke-width="3.4"/>
<path d="M752,74 L760.7,79.8" stroke-width="1.8"/>
<!-- 16 -->
<path d="M762.5,72.5 L767,76" stroke-width="2.8"/>
<!-- bolt -->
<ellipse class="f" cx="773.8" cy="64.3" rx="3.4" ry="3"/>
<path d="M773,65 L768.7,70.8" stroke-width="2.2"/>
<path d="M770,61.5 L777.5,67" stroke-width="1.6"/>
<circle class="f" cx="725.6" cy="110" r="1.3"/>
<!-- leaders -->
<path d="M731.8,40.4 L763.9,73.4"/>
<path d="M690,49.3 L745.4,69.4"/>
<path d="M663.5,79.5 L690,92.7 L724.5,107.1"/>
<path transform="translate(701.6,16.6) scale(0.550,0.930)" d="M0,4.6 L8,0.3 L8,20 M0,20 L16,20" vector-effect="non-scaling-stroke" stroke-width="2.2"/>
<path transform="translate(718.6,16.6) scale(0.988,0.930)" d="M14,0 L5,0 L0,5 L0,17 L3,20 L13,20 L16,17 L16,12 L13,9 L3,9 L0,12" vector-effect="non-scaling-stroke" stroke-width="2.2"/><path transform="translate(659.4,30.2) scale(0.550,0.905)" d="M0,4.6 L8,0.3 L8,20 M0,20 L16,20" vector-effect="non-scaling-stroke" stroke-width="2.2"/>
<path transform="translate(675.4,30.2) scale(0.988,0.905)" d="M0,0 L16,0 L6,20" vector-effect="non-scaling-stroke" stroke-width="2.2"/><path transform="translate(636.3,69.6) scale(0.613,0.930)" d="M0,4.6 L8,0.3 L8,20 M0,20 L16,20" vector-effect="non-scaling-stroke" stroke-width="2.2"/>
<path transform="translate(651.3,69.6) scale(0.613,0.930)" d="M0,4.6 L8,0.3 L8,20 M0,20 L16,20" vector-effect="non-scaling-stroke" stroke-width="2.2"/>
<!-- PART 8 -->
<path d="M793,72.9 L802.3,54.9 L818.7,53.3 L828.4,54.9 L839.6,63.3 L846,64.1 L852.5,68.9 L851.7,77.8 L846.8,80.2 L836.4,81.8 L834.8,92.2 L815.5,89 L797,81.8 Z" stroke-width="2.4"/>
<path d="M802.3,54.9 L809.9,58.5 L802.7,81.8 M806.3,56.5 L799.5,80.5"/>
<path d="M809.9,58.5 L823.6,65.7 L815.5,89 M823.6,65.7 L836.4,71.3 L834.8,92.2" stroke-width="2.4"/>
<path d="M809.9,58.5 L826.8,56.1 M817.1,62.1 L833.2,60.1 M823.6,65.7 L839.6,63.3" stroke-width="2"/>
<path d="M813,56 L821,60.5 M820,55.2 L828,59.8" stroke-width="1.4"/>
<path d="M836.4,71.3 L851.7,69.7"/>
<ellipse cx="841.4" cy="77.6" rx="2.6" ry="4.2" stroke-width="2"/>
<path d="M842.5,73.6 L846.5,75.6 L846.8,80.2" stroke-width="1.8"/>
<path transform="translate(887.7,36.9) scale(1.006,0.925)" d="M3,0 L13,0 L16,3 L16,7 L13,10 L3,10 L0,7 L0,3 Z M3,10 L0,13 L0,17 L3,20 L13,20 L16,17 L16,13 L13,10" vector-effect="non-scaling-stroke" stroke-width="2.2"/>
<path d="M847.7,63.3 L884.5,46.2"/>
<!-- PART 7 strip -->
<path d="M774,97 L806.8,112.6" stroke-width="5.2" stroke-linecap="butt"/>
<path d="M775,101 L776.5,104.5 M781,104 L782.5,107.5 M787,107 L788.5,110.5 M793,110 L794.5,113" stroke-width="2"/>
<path d="M778,97.3 L804,109.7" stroke="#fff" stroke-width="0.6" stroke-dasharray="2 5"/>
<path d="M808.1,111.1 L902,73"/>
<path transform="translate(905.8,65.7) scale(1.006,0.900)" d="M0,0 L16,0 L6,20" vector-effect="non-scaling-stroke" stroke-width="2.2"/>
<!-- 21 -->
<circle class="f" cx="771.9" cy="117.6" r="1.6"/><circle class="f" cx="778.2" cy="115.9" r="1.5"/><circle class="f" cx="780.8" cy="121.4" r="1.7"/>
<path d="M781.6,120.8 L841,110.3"/>
<path transform="translate(846.5,100.5) scale(0.925,0.905)" d="M0,4 L0,3 L3,0 L13,0 L16,3 L16,7 L13,10 L3,10 L0,13 L0,20 L16,20" vector-effect="non-scaling-stroke" stroke-width="2.2"/>
<path transform="translate(868.5,100.5) scale(0.644,0.905)" d="M0,4.6 L8,0.3 L8,20 M0,20 L16,20" vector-effect="non-scaling-stroke" stroke-width="2.2"/>
<!-- 19 -->
<path d="M817.7,131.5 L884.8,128.1" />
<path d="M817.7,131.5 L820,131.4" stroke-width="2.2"/>
<path transform="translate(887.3,118.6) scale(0.637,0.915)" d="M0,4.6 L8,0.3 L8,20 M0,20 L16,20" vector-effect="non-scaling-stroke" stroke-width="2.2"/>
<path transform="translate(904.2,118.6) scale(0.988,0.915)" d="M16,8 L13,11 L3,11 L0,8 L0,3 L3,0 L13,0 L16,3 L16,13 L10,20 L4,20" vector-effect="non-scaling-stroke" stroke-width="2.2"/>
<!-- 20 -->
<path d="M821,141.5 L826.5,135.5 M823.5,135.5 L828.6,140.2 L835.6,143.2" stroke-width="1.6"/>
<circle class="f" cx="818.7" cy="145.4" r="1.2"/><path transform="translate(842.5,141.7) scale(0.988,0.915)" d="M0,4 L0,3 L3,0 L13,0 L16,3 L16,7 L13,10 L3,10 L0,13 L0,20 L16,20" vector-effect="non-scaling-stroke" stroke-width="2.2"/><path transform="translate(866.6,141.7) scale(0.819,0.915)" d="M3,0 L13,0 L16,3 L16,17 L13,20 L3,20 L0,17 L0,3 Z" vector-effect="non-scaling-stroke" stroke-width="2.2"/>
<!-- 9 -->
<path class="f" d="M851.2,165.5 L855.4000000000001,169.1 L856.8000000000001,172.29999999999998 L854.4000000000001,175.7 L848.0,175.7 L845.6,172.29999999999998 L847.0,169.1 Z"/>
<path d="M850.0,175.1 L850.0,182.1 M852.6,175.1 L852.6,182.1" stroke-width="1.6"/>
<ellipse class="f" cx="848.0" cy="184.7" rx="9.2" ry="6" transform="rotate(24 848.0 184.7)"/>
<ellipse cx="842.2" cy="182.29999999999998" rx="2.1" ry="1.7" fill="#fff" stroke="none"/>
<path d="M857.1,188.2 L884.4,206.9"/>
<path transform="translate(894.1,201.1) scale(0.988,0.915)" d="M16,8 L13,11 L3,11 L0,8 L0,3 L3,0 L13,0 L16,3 L16,13 L10,20 L4,20" vector-effect="non-scaling-stroke" stroke-width="2.2"/>
<!-- 10 -->
<path class="f" d="M830.3,192.20000000000002 L834.5,195.8 L835.9,199.0 L833.5,202.4 L827.0999999999999,202.4 L824.6999999999999,199.0 L826.0999999999999,195.8 Z"/>
<path d="M829.0999999999999,201.8 L829.0999999999999,208.8 M831.6999999999999,201.8 L831.6999999999999,208.8" stroke-width="1.6"/>
<ellipse class="f" cx="827.0999999999999" cy="211.4" rx="9.2" ry="6" transform="rotate(24 827.0999999999999 211.4)"/>
<ellipse cx="821.3" cy="209.0" rx="2.1" ry="1.7" fill="#fff" stroke="none"/>
<path d="M836.2,216 L855,228.9"/>
<path transform="translate(861.8,224.6) scale(0.550,0.915)" d="M0,4.6 L8,0.3 L8,20 M0,20 L16,20" vector-effect="non-scaling-stroke" stroke-width="2.2"/>
<path transform="translate(876.8,224.6) scale(0.863,0.915)" d="M3,0 L13,0 L16,3 L16,17 L13,20 L3,20 L0,17 L0,3 Z" vector-effect="non-scaling-stroke" stroke-width="2.2"/>
</g>

<!-- p22.py -->

<g>
<path class="f" d="M162.3,64.6 Q200,85 240.2,101.3 L238.2,110.3 Q200,95 163.4,74.4 Z" stroke="#0d0d0d" stroke-width="1"/>
<path d="M164.5,70.3 Q200,89.8 238.6,105.2" stroke="#d8d8d8" stroke-width="0.9"/>
<path d="M164.8,72.6 Q200,92 238.2,107.6" stroke="#bdbdbd" stroke-width="0.6"/>
<path d="M160,114.5 L205,97.5"/>
<path transform="translate(134.1,120.6) scale(0.925,0.940)" d="M0,4 L0,3 L3,0 L13,0 L16,3 L16,7 L13,10 L3,10 L0,13 L0,20 L16,20" vector-effect="non-scaling-stroke" stroke-width="2.2"/>
<path transform="translate(157.6,120.6) scale(0.925,0.940)" d="M0,4 L0,3 L3,0 L13,0 L16,3 L16,7 L13,10 L3,10 L0,13 L0,20 L16,20" vector-effect="non-scaling-stroke" stroke-width="2.2"/>
<path d="M153,370.4 L156.2,370.4" stroke="#666" stroke-width="1.1"/>
</g>

</g>
</svg>
</body></html>
